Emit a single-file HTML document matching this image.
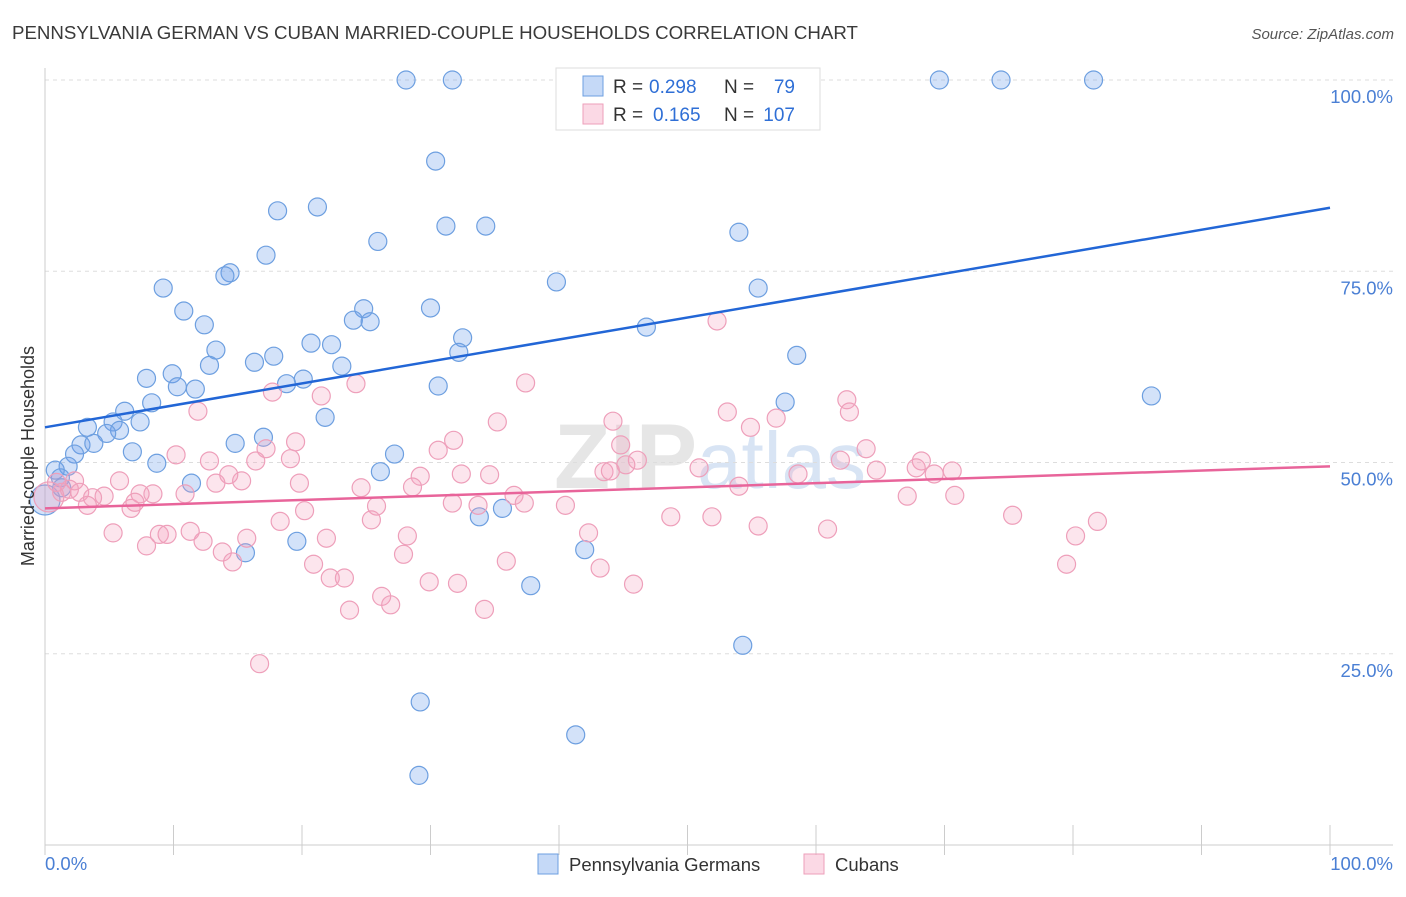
<!DOCTYPE html>
<html><head><meta charset="utf-8"><style>
body{margin:0;background:#fff;font-family:"Liberation Sans",sans-serif;}
svg text{font-family:"Liberation Sans",sans-serif;}
</style></head><body>
<svg id="chart" width="1406" height="892" viewBox="0 0 1406 892" xmlns="http://www.w3.org/2000/svg">
<text x="12" y="39" font-size="18.7" fill="#3a3a3a">PENNSYLVANIA GERMAN VS CUBAN MARRIED-COUPLE HOUSEHOLDS CORRELATION CHART</text>
<text x="1394" y="39" font-size="15" fill="#555" text-anchor="end" font-style="italic">Source: ZipAtlas.com</text>
<text x="710" y="488" font-size="92" fill="#e6e6e6" text-anchor="middle" font-family="Liberation Serif" font-weight="bold">ZIP<tspan fill="#d8e4f4" font-family="Liberation Sans" font-weight="normal" font-size="80">atlas</tspan></text>
<g id="grid"></g>
<g id="points"></g>
<g id="lines"></g>
<text transform="translate(34,456) rotate(-90)" font-size="18" fill="#333" text-anchor="middle">Married-couple Households</text>
<g>
<rect x="556" y="68" width="264" height="62" fill="#fff" stroke="#ddd"/>
<rect x="583" y="76" width="20" height="20" fill="rgba(110,160,235,0.4)" stroke="#6d9fe0"/>
<rect x="583" y="104" width="20" height="20" fill="rgba(245,160,190,0.4)" stroke="#ee9fba"/>
<text x="613" y="93" font-size="19" fill="#333">R =</text>
<text x="649" y="93" font-size="19" fill="#2f6fd6">0.298</text>
<text x="724" y="93" font-size="19" fill="#333">N =</text>
<text x="795" y="93" font-size="19" fill="#2f6fd6" text-anchor="end">79</text>
<text x="613" y="121" font-size="19" fill="#333">R =</text>
<text x="653" y="121" font-size="19" fill="#2f6fd6">0.165</text>
<text x="724" y="121" font-size="19" fill="#333">N =</text>
<text x="795" y="121" font-size="19" fill="#2f6fd6" text-anchor="end">107</text>
</g>
<g>
<rect x="538" y="854" width="20" height="20" fill="rgba(110,160,235,0.4)" stroke="#6d9fe0"/>
<text x="569" y="871" font-size="18.5" fill="#333">Pennsylvania Germans</text>
<rect x="804" y="854" width="20" height="20" fill="rgba(245,160,190,0.4)" stroke="#ee9fba"/>
<text x="835" y="871" font-size="18.5" fill="#333">Cubans</text>
</g>
</svg>
<script>
const yTicks=[25,50,75,100];
const yTickLabels=["25.0%","50.0%","75.0%","100.0%"];
const xTicks=[0,10,20,30,40,50,60,70,80,90,100];
const xEndLabels=["0.0%","100.0%"];
const blueX=[28.1,31.7,69.6,74.4,81.6,30.4,18.1,21.2,31.2,34.3,25.9,54.0,17.2,14.4,14.0,9.2,39.8,55.5,10.8,12.4,30.0,24.8,24.0,25.3,46.8,20.7,22.3,32.5,13.3,32.2,17.8,16.3,12.8,58.5,23.1,9.9,7.9,20.1,10.3,11.7,18.8,30.6,8.3,6.2,21.8,57.6,86.1,3.3,7.4,5.3,5.8,4.8,2.8,3.8,14.8,17.0,6.8,2.3,8.7,1.8,0.8,27.2,26.1,1.2,11.4,33.8,35.6,19.6,15.6,42.0,37.8,54.3,29.2,41.3,29.1,0,1.3];
const blueY=[100,100,100,100,100,89.4,82.9,83.4,80.9,80.9,78.9,80.1,77.1,74.8,74.4,72.8,73.6,72.8,69.8,68.0,70.2,70.1,68.6,68.4,67.7,65.6,65.4,66.3,64.7,64.4,63.9,63.1,62.7,64.0,62.6,61.6,61.0,60.9,59.9,59.6,60.3,60.0,57.8,56.7,55.9,57.9,58.7,54.6,55.3,55.3,54.2,53.8,52.3,52.5,52.5,53.3,51.4,51.1,49.9,49.5,49.0,51.1,48.8,48.0,47.3,42.9,44.0,39.7,38.2,38.6,33.9,26.1,18.7,14.4,9.1,45.1,46.7];
const pinkX=[52.3,37.4,24.2,17.7,21.5,11.9,44.2,35.2,53.1,62.4,62.6,56.9,54.9,19.5,31.8,30.6,17.2,10.2,12.8,16.4,19.1,44.8,63.9,46.1,61.9,68.2,32.4,34.6,29.2,43.5,44.0,45.2,50.9,64.7,67.8,70.6,69.2,58.6,5.8,2.3,15.3,13.3,14.3,19.8,1.3,1.9,2.7,4.6,3.7,8.4,7.4,10.9,24.6,28.6,36.5,54.0,67.1,70.8,3.3,6.7,7.0,20.2,25.8,31.7,33.7,37.3,40.5,18.3,25.4,48.7,51.9,75.3,81.9,5.3,8.9,9.5,11.3,12.3,15.7,21.9,28.2,42.3,55.5,60.9,80.2,7.9,13.8,14.6,27.9,35.9,43.2,20.9,22.2,23.3,29.9,32.1,45.8,26.2,26.9,23.7,34.2,79.5,16.7,0.3,0.9];
const pinkY=[68.5,60.4,60.3,59.2,58.7,56.7,55.4,55.3,56.6,58.2,56.6,55.8,54.6,52.7,52.9,51.6,51.8,51.0,50.2,50.2,50.5,52.3,51.8,50.3,50.3,50.2,48.5,48.4,48.2,48.8,48.9,49.7,49.3,49.0,49.3,48.9,48.5,48.5,47.6,47.6,47.6,47.3,48.4,47.3,46.1,46.5,46.1,45.6,45.4,45.9,45.9,45.9,46.7,46.8,45.7,46.9,45.6,45.7,44.4,44.0,44.8,43.7,44.3,44.7,44.4,44.7,44.4,42.3,42.5,42.9,42.9,43.1,42.3,40.8,40.6,40.6,41.0,39.7,40.1,40.1,40.4,40.8,41.7,41.3,40.4,39.1,38.3,37.0,38.0,37.1,36.2,36.7,34.9,34.9,34.4,34.2,34.1,32.5,31.4,30.7,30.8,36.7,23.7,45.5,47.4];
const blueTrend=[54.6,83.3];
const pinkTrend=[44.0,49.5];
const NS="http://www.w3.org/2000/svg";
const X0=45,X1=1330,Y0=845,YSC=7.65;
function xs(v){return X0+(X1-X0)*v/100;}
function ys(v){return Y0-YSC*v;}
function mk(tag,attrs,parent){const e=document.createElementNS(NS,tag);for(const k in attrs)e.setAttribute(k,attrs[k]);parent.appendChild(e);return e;}
const grid=document.getElementById('grid');
yTicks.forEach((t,i)=>{
 const l=mk('line',{x1:X0,x2:1393,y1:ys(t),y2:ys(t),stroke:'#ddd','stroke-dasharray':'4,4'},grid);
 
 
 const tx=mk('text',{x:1393,y:ys(t)+23,'font-size':18.5,fill:'#4a7fd4','text-anchor':'end'},grid);
 tx.textContent=yTickLabels[i];
 
 
});
const ax=mk('line',{x1:X0,x2:1393,y1:Y0,y2:Y0,stroke:'#ccc'},grid);


const ay=mk('line',{x1:X0,x2:X0,y1:68,y2:Y0,stroke:'#ccc'},grid);


xTicks.forEach(t=>{
 const l=mk('line',{x1:xs(t),x2:xs(t),y1:Y0-20,y2:Y0+10,stroke:'#ccc'},grid);
 
 
});
const xl0=mk('text',{x:45,y:870,'font-size':18.5,fill:'#4a7fd4'},grid);xl0.textContent=xEndLabels[0];


const xl1=mk('text',{x:1393,y:870,'font-size':18.5,fill:'#4a7fd4','text-anchor':'end'},grid);xl1.textContent=xEndLabels[1];


const pts=document.getElementById('points');
function series(xa,ya,fill,stroke,name){
 xa.forEach((v,i)=>{
  const r=(v<0.5)?15:9;
  const c=mk('circle',{cx:xs(v),cy:ys(ya[i]),r:r,fill:fill,stroke:stroke,'stroke-width':1.2},pts);
  
  
 });
}
series(blueX,blueY,'rgba(110,160,235,0.3)','#6d9fe0','point-pennsylvania-german');
series(pinkX,pinkY,'rgba(245,160,190,0.28)','#ee9fba','point-cuban');
const lines=document.getElementById('lines');
const bl=mk('line',{x1:xs(0),y1:ys(blueTrend[0]),x2:xs(100),y2:ys(blueTrend[1]),stroke:'#2266d6','stroke-width':2.5},lines);


const pl=mk('line',{x1:xs(0),y1:ys(pinkTrend[0]),x2:xs(100),y2:ys(pinkTrend[1]),stroke:'#e8649a','stroke-width':2.5},lines);


</script>
</body></html>
